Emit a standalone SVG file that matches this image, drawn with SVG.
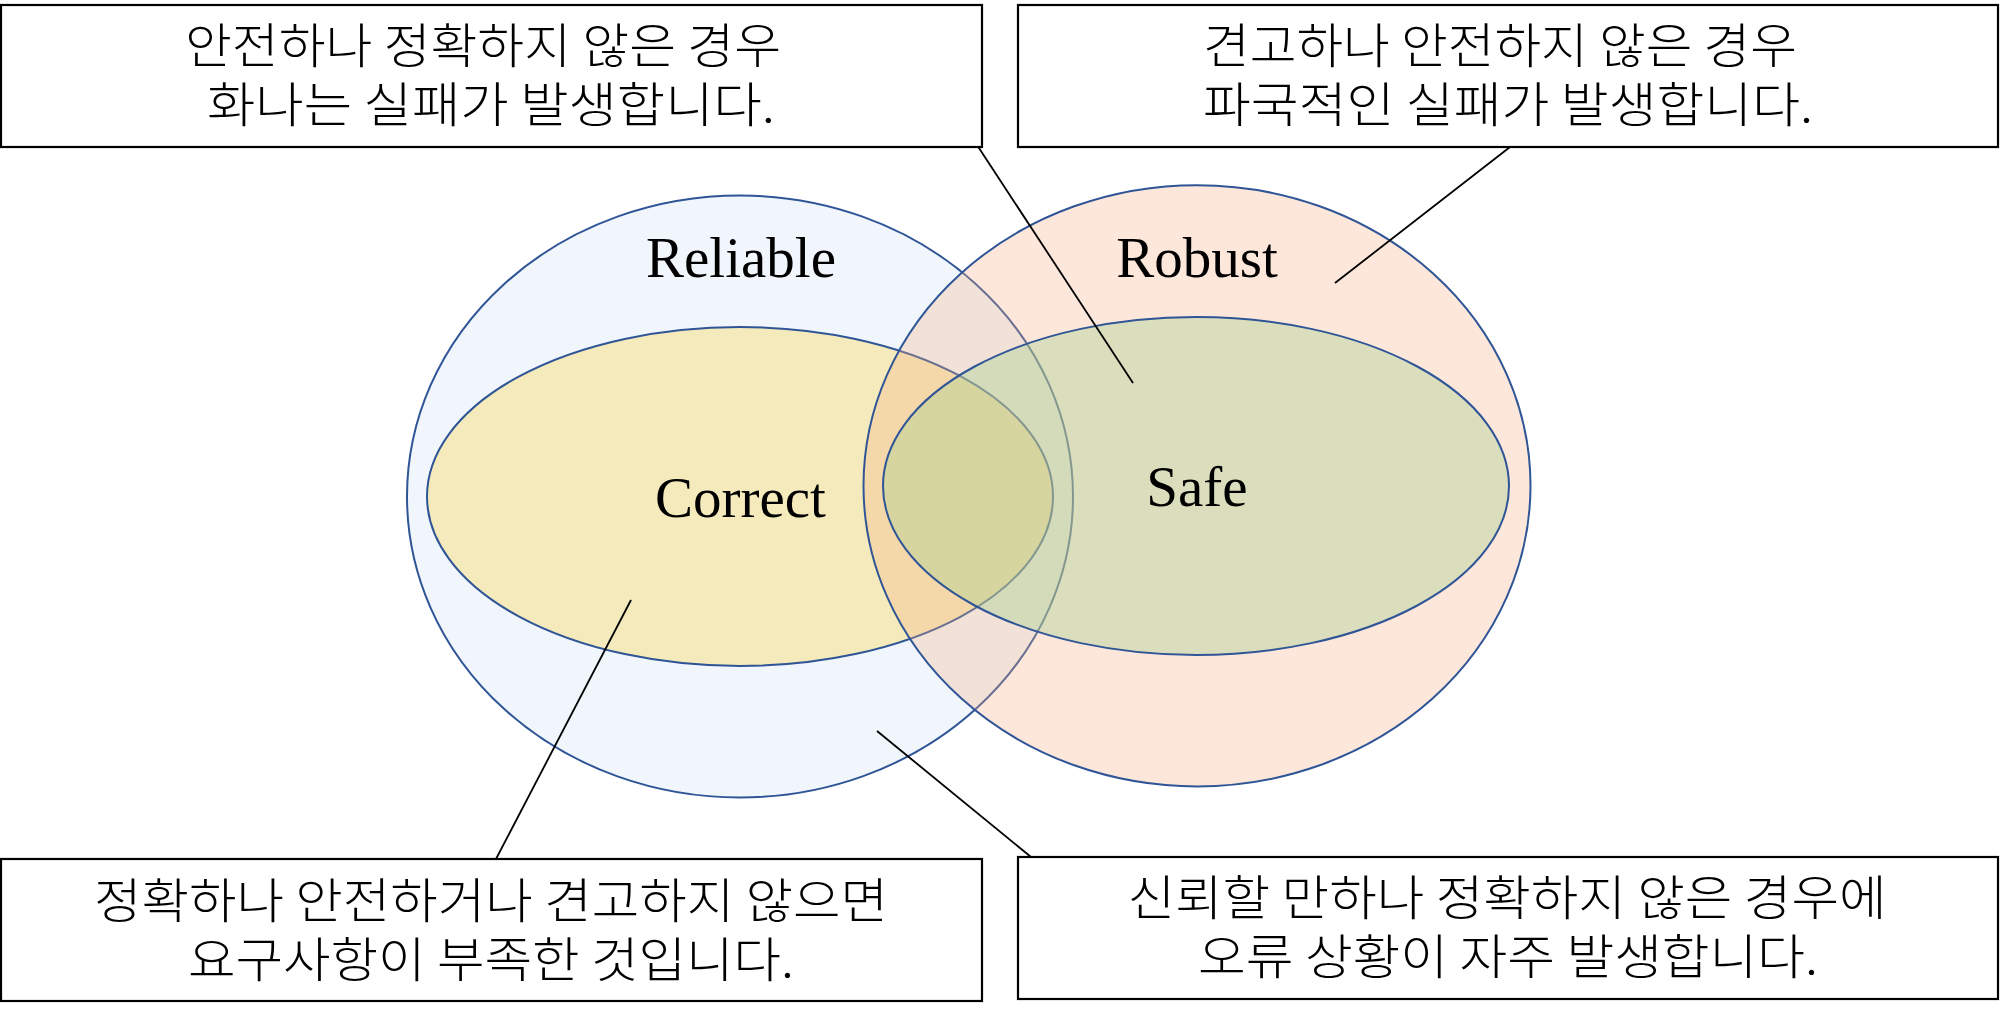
<svg xmlns="http://www.w3.org/2000/svg" width="2002" height="1021" viewBox="0 0 2002 1021">
<style>
.set{stroke:#2F5597;stroke-width:2}
.lbl{font-family:"Liberation Serif","Times New Roman",serif;font-size:57px;fill:#000;text-anchor:middle}
.box{fill:#fff;stroke:#000;stroke-width:2.2}
.kr{font-family:"Noto Sans CJK KR","Noto Sans",sans-serif;font-size:48px;font-weight:300;fill:#000;text-anchor:middle}
.con{stroke:#000;stroke-width:1.8;fill:none}
</style>
<rect width="2002" height="1021" fill="#fff"/>
<g id="reliable">
<ellipse class="set" cx="740" cy="496.5" rx="333" ry="301" fill="#F0F6FB"/>
<text class="lbl" x="741" y="277">Reliable</text>
</g>
<g id="correct">
<ellipse class="set" cx="740" cy="496.5" rx="313" ry="169.5" fill="#F5EABB"/>
<text class="lbl" x="740.5" y="517">Correct</text>
</g>
<g id="robust">
<ellipse class="set" cx="1197" cy="485.8" rx="333.5" ry="300.6" fill="#F4B183" fill-opacity="0.3"/>
<text class="lbl" x="1197" y="277">Robust</text>
</g>
<g id="safe">
<ellipse class="set" cx="1196" cy="486" rx="313" ry="169" fill="#A9D18E" fill-opacity="0.4"/>
<text class="lbl" x="1197" y="506">Safe</text>
</g>
<g id="connectors">
<line class="con" x1="977" y1="145" x2="1133" y2="383"/>
<line class="con" x1="1510" y1="147" x2="1335" y2="283"/>
<line class="con" x1="631" y1="600" x2="496" y2="859"/>
<line class="con" x1="877" y1="731" x2="1031" y2="857"/>
</g>
<g id="box-safe-not-correct">
<rect class="box" x="1" y="5" width="981" height="142"/>
<text class="kr"><tspan x="483" y="63" textLength="596" lengthAdjust="spacingAndGlyphs">안전하나 정확하지 않은 경우</tspan><tspan x="491" y="122" textLength="568" lengthAdjust="spacingAndGlyphs">화나는 실패가 발생합니다.</tspan></text>
</g>
<g id="box-robust-not-safe">
<rect class="box" x="1018" y="5" width="980" height="142"/>
<text class="kr"><tspan x="1500" y="63" textLength="594" lengthAdjust="spacingAndGlyphs">견고하나 안전하지 않은 경우</tspan><tspan x="1508" y="122" textLength="610" lengthAdjust="spacingAndGlyphs">파국적인 실패가 발생합니다.</tspan></text>
</g>
<g id="box-correct-not-safe">
<rect class="box" x="1" y="859" width="981" height="142"/>
<text class="kr"><tspan x="491" y="918" textLength="794" lengthAdjust="spacingAndGlyphs">정확하나 안전하거나 견고하지 않으면</tspan><tspan x="491" y="977" textLength="606" lengthAdjust="spacingAndGlyphs">요구사항이 부족한 것입니다.</tspan></text>
</g>
<g id="box-reliable-not-correct">
<rect class="box" x="1018" y="857" width="980" height="142"/>
<text class="kr"><tspan x="1507" y="915" textLength="759" lengthAdjust="spacingAndGlyphs">신뢰할 만하나 정확하지 않은 경우에</tspan><tspan x="1508" y="974" textLength="620" lengthAdjust="spacingAndGlyphs">오류 상황이 자주 발생합니다.</tspan></text>
</g>
</svg>
